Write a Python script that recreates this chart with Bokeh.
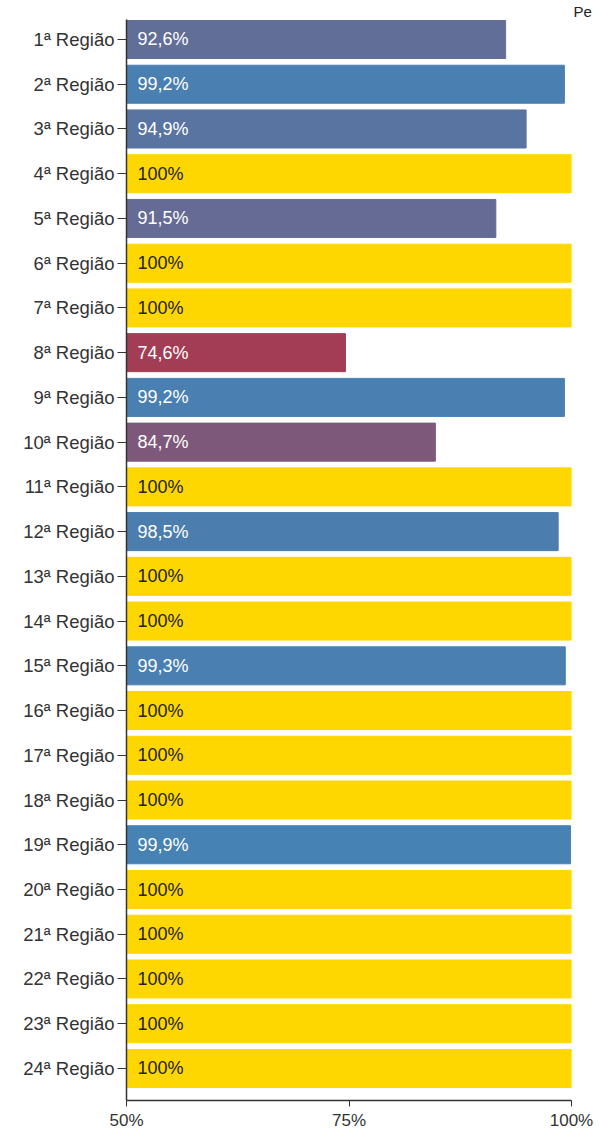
from bokeh.plotting import figure
from bokeh.models import Range1d, FixedTicker, ColumnDataSource
from bokeh.core.properties import value
from bokeh.embed import file_html
from bokeh.resources import INLINE

regions = [f"{i}ª Região" for i in range(1, 25)]
values = [92.6, 99.2, 94.9, 100, 91.5, 100, 100, 74.6, 99.2, 84.7, 100, 98.5,
          100, 100, 99.3, 100, 100, 100, 99.9, 100, 100, 100, 100, 100]
x_ticks = [50, 75, 100]
x_tick_labels = ["50%", "75%", "100%"]
title_text = "Pe"

FONT = "Liberation Sans"

# colour scale: low value -> crimson-ish, high -> steelblue, complete (100%) -> gold
lo_c, hi_c = (163, 60, 85), (70, 130, 180)
vmin = min(values)
def colour(v):
    if v >= 100:
        return "#FFD700"
    t = (v - vmin) / (100 - vmin)
    r, g, b = (round(lo_c[i] + (hi_c[i] - lo_c[i]) * t) for i in range(3))
    return f"#{r:02x}{g:02x}{b:02x}"

def fmt(v):
    return "100%" if v >= 100 else f"{v:.1f}".replace(".", ",") + "%"

pos = list(range(len(regions)))  # band index, 0 at the top

src = ColumnDataSource(dict(
    pos=pos,
    region=regions,
    value=values,
    start=[50] * len(values),
    color=[colour(v) for v in values],
    label=[fmt(v) for v in values],
    tcolor=["#222222" if v >= 100 else "#ffffff" for v in values],
))

p = figure(width=601, height=1134, output_backend="svg", toolbar_location=None,
           y_range=Range1d(len(regions) - 0.284, -0.447),
           x_range=Range1d(50, 100), title=title_text,
           min_border_left=126, min_border_right=30, min_border_top=0, min_border_bottom=34)
p.title.text_font = FONT
p.title.text_font_size = "15px"
p.title.text_font_style = "normal"
p.title.text_color = "#222222"
p.title.standoff = 0
p.title.align = "left"
p.title.offset = 447

p.outline_line_color = None
p.grid.grid_line_color = None
p.background_fill_color = "white"

p.hbar(y="pos", left="start", right="value", height=0.85, color="color", source=src)
p.text(x="start", y="pos", text="label", text_color="tcolor", x_offset=11,
       text_baseline="middle", text_align="left", text_font=value(FONT),
       text_font_size="18px", source=src)

for ax in (p.xaxis[0], p.yaxis[0]):
    ax.axis_line_color = "#333333"
    ax.major_tick_line_color = "#333333"
    ax.minor_tick_line_color = None
    ax.major_tick_out = 6
    ax.major_tick_in = 0
    ax.major_label_text_font = FONT
    ax.major_label_text_font_size = "17px"
    ax.major_label_text_color = "#333333"
    ax.axis_line_width = 1.5

p.yaxis.ticker = FixedTicker(ticks=pos)
p.yaxis.major_label_overrides = {i: r for i, r in zip(pos, regions)}
p.yaxis.major_tick_out = 9
p.yaxis.major_label_standoff = 3
p.yaxis.major_label_text_font_size = "18.5px"
p.xaxis.ticker = FixedTicker(ticks=x_ticks)
p.xaxis.major_label_overrides = {t: l for t, l in zip(x_ticks, x_tick_labels)}
p.xaxis.major_label_standoff = 4

open("out.html", "w").write(file_html(p, INLINE))
